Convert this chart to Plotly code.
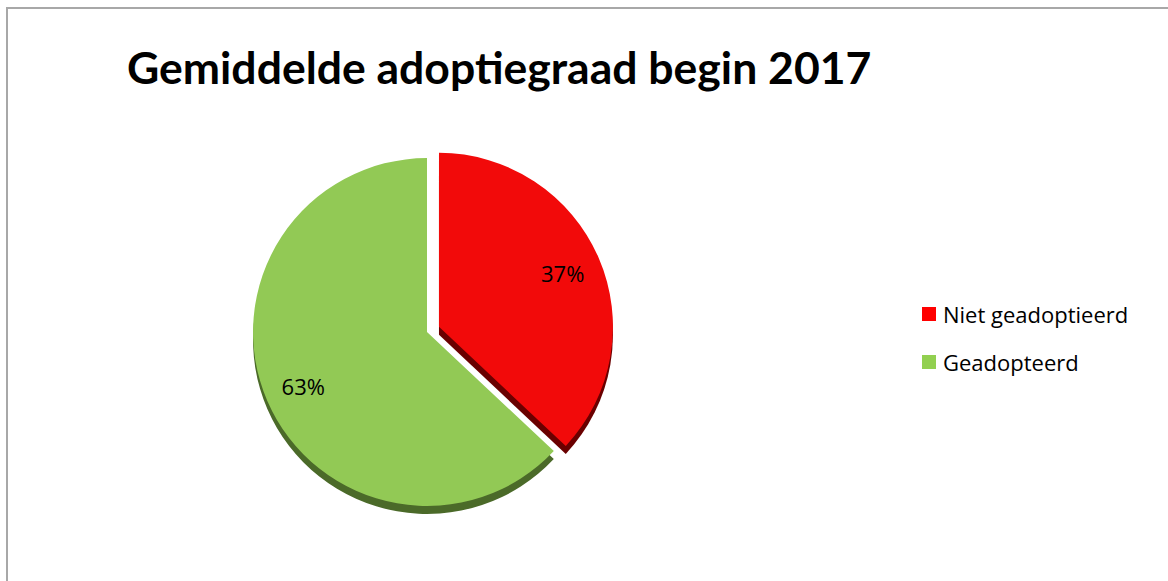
import plotly.graph_objects as go

categories = ["Niet geadoptieerd", "Geadopteerd"]
values = [37, 63]
colors = ["#F20A0A", "#92C955"]
legend_colors = ["#FF0000", "#92D050"]
edge_colors = ["#6A0000", "#4B6A29"]
title_text = "Gemiddelde adoptiegraad begin 2017"

W, H = 1168, 581
cx, cy = 427, 332          # pie centre in pixels (from top-left)
half = 187                  # half of domain size in pixels
pull = [0.075, 0]

def px_domain(cx, cy, half):
    return dict(x=[(cx - half) / W, (cx + half) / W],
                y=[1 - (cy + half) / H, 1 - (cy - half) / H])

common = dict(labels=categories, values=values, sort=False, direction="clockwise",
              rotation=0, pull=pull, showlegend=False)

fig = go.Figure()

# 3D edge: darker copy slightly lower
fig.add_trace(go.Pie(
    **common, marker=dict(colors=edge_colors, line=dict(width=0)),
    textinfo="none", hoverinfo="skip",
    domain=px_domain(cx, cy + 8, half),
))

# main pie face
fig.add_trace(go.Pie(
    **common, marker=dict(colors=colors, line=dict(width=0)),
    textinfo="none",
    domain=px_domain(cx, cy, half),
))

# transparent ring carrying the percentage labels (places them towards the rim)
fig.add_trace(go.Pie(
    **common, hole=0.55,
    marker=dict(colors=["rgba(0,0,0,0)", "rgba(0,0,0,0)"], line=dict(width=0)),
    textinfo="percent", textposition="inside", insidetextorientation="horizontal",
    texttemplate="%{percent:.0%}", hoverinfo="skip",
    textfont=dict(family="Open Sans, sans-serif", size=22, color="#000000"),
    domain=px_domain(cx, cy, half),
))

shapes = [dict(type="rect", xref="paper", yref="paper",
               x0=7 / W, x1=1.02, y0=-0.02, y1=1 - 8 / H,
               line=dict(color="#A8A8A8", width=2), fillcolor="rgba(0,0,0,0)")]
annotations = []
leg_x, leg_y0, leg_dy = 922, 314, 48
for i, (cat, col) in enumerate(zip(categories, legend_colors)):
    yc = leg_y0 + i * leg_dy
    shapes.append(dict(type="rect", xref="paper", yref="paper",
                       x0=leg_x / W, x1=(leg_x + 14) / W,
                       y0=1 - (yc + 7) / H, y1=1 - (yc - 7) / H,
                       fillcolor=col, line=dict(width=0)))
    annotations.append(dict(text=cat, xref="paper", yref="paper",
                            x=(leg_x + 19) / W, y=1 - yc / H,
                            xanchor="left", yanchor="middle", showarrow=False,
                            font=dict(family="Open Sans, sans-serif", size=22, color="#000000")))

fig.update_layout(
    width=W, height=H,
    margin=dict(l=0, r=0, t=0, b=0),
    paper_bgcolor="#FFFFFF", plot_bgcolor="#FFFFFF",
    title=dict(text="<b>" + title_text + "</b>", x=127 / W, xanchor="left",
               y=1 - 68 / H, yanchor="middle",
               font=dict(family="Lato, sans-serif", size=44.5, color="#000000")),
    shapes=shapes, annotations=annotations,
)

fig.write_html("out.html", config={"displayModeBar": False},
               post_script="document.body.style.margin='0';document.body.style.overflow='hidden';")
